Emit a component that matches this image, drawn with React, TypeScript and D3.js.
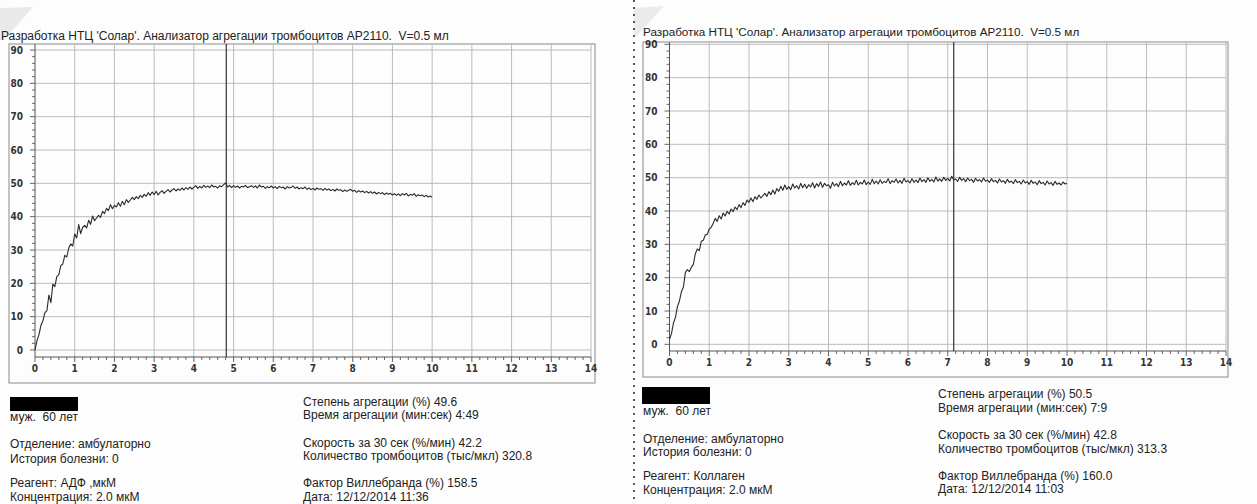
import React from "react";
import * as d3 from "d3";

// one reading every 3 s (0.05 min), 0 .. 10 min
const sampleStep = 0.05;

const adpCurve = [
  0, 2.8, 4.6, 7.4, 8.8, 11.2, 11.8, 16.5, 14.2, 19.8, 19.0, 22.1, 22.6, 25.3, 25.8, 28.4, 27.9, 30.6, 31.8, 31.2,
  34.8, 33.6, 37.6, 34.9, 36.8, 37.4, 36.6, 38.9, 37.7, 40.2, 38.8, 39.6, 40.4, 39.8, 41.6, 40.9, 42.5, 41.8, 43.6, 42.4,
  43.4, 42.9, 44.2, 43.1, 44.6, 43.6, 45.1, 44.3, 45.0, 45.8, 45.1, 46.0, 45.4, 46.4, 45.8, 46.7, 46.1, 47.2, 46.4, 47.4,
  46.6, 47.6, 46.5, 47.3, 47.8, 47.0, 47.6, 48.1, 47.4, 48.0, 48.4, 47.7, 48.3, 47.9, 48.6, 48.0, 48.7, 48.2, 48.9, 48.3,
  48.8, 49.3, 48.5, 49.1, 48.6, 49.4, 48.8, 49.2, 48.7, 49.5, 48.9, 49.1, 48.6, 49.3, 49.0, 49.6, 50.1, 48.9, 49.4, 48.7,
  49.3, 48.8, 49.2, 48.6, 49.1, 48.9, 49.4, 48.7, 49.0, 49.3, 48.8, 49.2, 48.6, 49.5, 48.9, 49.1, 48.5, 49.0, 48.7, 49.2,
  48.6, 49.0, 48.4, 49.1, 48.7, 48.9, 48.3, 49.0, 48.6, 48.8, 49.2, 48.5, 48.9, 48.3, 48.7, 48.4, 48.9, 48.2, 48.6, 48.1,
  48.5, 48.0, 48.6, 48.2, 48.4, 47.9, 48.5, 48.0, 48.3, 47.8, 48.2, 47.7, 48.3, 47.9, 48.1, 47.5, 48.0, 47.6, 47.9, 48.2,
  47.6, 47.9, 47.3, 47.8, 47.4, 47.7, 47.2, 47.6, 47.1, 47.5, 47.0, 47.4, 46.8, 47.3, 46.9, 47.2, 46.6, 47.1, 46.7, 47.0,
  46.5, 46.9, 46.4, 46.8, 46.3, 46.9, 46.5, 47.0, 46.2, 46.7, 46.4, 46.9, 46.1, 46.6, 46.3, 46.5, 46.0, 46.4, 45.9, 46.2,
  45.8,
];

const collagenCurve = [
  1.5, 3.2, 6.4, 8.1, 11.3, 13.0, 15.8, 17.2, 21.6, 22.4, 21.8, 23.1, 24.0, 27.2, 28.6, 28.1, 30.9, 31.2, 32.8, 33.0,
  34.6, 35.1, 36.3, 37.8, 36.9, 38.6, 37.6, 39.4, 38.5, 39.9, 39.1, 40.6, 39.8, 41.2, 40.4, 41.9, 41.0, 42.5, 41.7, 43.3,
  42.6, 43.9, 42.8, 44.3, 43.5, 44.8, 43.9, 44.6, 45.3, 44.4, 45.8, 44.9, 46.3, 45.1, 46.7, 45.9, 47.4, 46.2, 47.8, 46.5,
  47.3, 46.4, 48.1, 46.9, 47.6, 46.6, 48.3, 47.0, 48.0, 46.8, 47.9, 47.2, 48.5, 46.9, 48.2, 47.4, 48.7, 47.1, 48.3, 47.6,
  47.9, 46.8, 48.6, 47.5, 48.2, 47.3, 48.9, 47.6, 48.4, 47.8, 49.1, 47.7, 48.5, 47.9, 49.2, 47.8, 48.6, 48.1, 49.3, 47.9,
  48.7, 48.0, 49.5, 48.2, 49.0, 48.1, 49.4, 48.3, 48.9, 48.5, 49.7, 48.2, 49.1, 48.6, 49.6, 48.4, 49.2, 48.3, 49.8, 48.7,
  49.1, 48.4, 49.7, 48.6, 49.3, 48.5, 49.9, 48.8, 49.4, 48.6, 50.0, 48.9, 49.5, 48.7, 50.2, 49.0, 49.6, 48.9, 50.1, 49.2,
  49.8, 49.0, 50.4, 49.3, 49.6, 48.9, 50.1, 49.2, 49.7, 48.8, 49.9, 49.1, 49.5, 48.6, 49.8, 49.0, 49.4, 48.7, 49.9, 48.9,
  49.3, 48.6, 49.7, 48.8, 49.2, 48.4, 49.6, 48.7, 49.1, 48.3, 49.5, 48.6, 49.0, 48.2, 49.4, 48.5, 48.9, 48.1, 49.3, 48.4,
  48.8, 48.0, 49.2, 48.3, 48.7, 47.9, 49.1, 48.2, 48.6, 47.8, 49.0, 48.1, 48.5, 47.7, 48.9, 48.0, 48.4, 47.8, 48.7, 48.1,
  48.3,
];

// aggregation time markers, minutes (4:49 and 7:09)
const adpMarker = 4 + 49 / 60;
const collagenMarker = 7 + 9 / 60;

const xTickValues = d3.range(0, 15);
const yTickValues = [0, 10, 20, 30, 40, 50, 60, 70, 80, 90];

const title = "Разработка НТЦ 'Солар'. Анализатор агрегации тромбоцитов AP2110.  V=0.5 мл";

const adpPatient = ["муж.  60 лет", "Отделение: амбулаторно", "История болезни: 0", "Реагент: АДФ ,мкМ", "Концентрация: 2.0 мкМ"];
const adpResults = [
  "Степень агрегации (%) 49.6",
  "Время агрегации (мин:сек) 4:49",
  "Скорость за 30 сек (%/мин) 42.2",
  "Количество тромбоцитов (тыс/мкл) 320.8",
  "Фактор Виллебранда (%) 158.5",
  "Дата: 12/12/2014 11:36",
];
const collagenPatient = ["муж.  60 лет", "Отделение: амбулаторно", "История болезни: 0", "Реагент: Коллаген", "Концентрация: 2.0 мкМ"];
const collagenResults = [
  "Степень агрегации (%) 50.5",
  "Время агрегации (мин:сек) 7:9",
  "Скорость за 30 сек (%/мин) 42.8",
  "Количество тромбоцитов (тыс/мкл) 313.3",
  "Фактор Виллебранда (%) 160.0",
  "Дата: 12/12/2014 11:03",
];

const textFont = "'Liberation Sans', Arial, sans-serif";
const tickFont = "'Liberation Sans Narrow', 'DejaVu Sans Condensed', sans-serif";

function Panel(props: any) {
  const { frame, xRange, yRange, yDomain, values, marker, titleX, titleY, titleSize, patient, results, leftX, leftY, rightX, rightY, blackBox } = props;

  const x = d3.scaleLinear().domain([0, 14]).range(xRange);
  const y = d3.scaleLinear().domain(yDomain).range(yRange);
  const line = d3
    .line<number>()
    .x((_, i) => x(i * sampleStep))
    .y((d) => y(d));

  const top = frame.y;
  const axisY = yRange[0];
  const axisX = xRange[0];
  const minorX = x.ticks(70);
  const minorY = y.ticks(45).filter((v) => v >= 0 && v <= 90);

  return (
    <g>
      <text x={titleX} y={titleY} fontFamily={textFont} fontSize={titleSize} fill="#222" style={{ whiteSpace: "pre" }}>
        {title}
      </text>
      <rect x={frame.x} y={frame.y} width={frame.w} height={frame.h} fill="none" stroke="#8a8a8a" strokeWidth={1} />

      {/* grid */}
      {xTickValues.slice(1).map((t) => (
        <line key={"gx" + t} x1={x(t)} x2={x(t)} y1={top} y2={axisY} stroke="#b4b4b4" strokeWidth={0.9} />
      ))}
      {yTickValues.map((v) => (
        <line key={"gy" + v} x1={axisX} x2={x(14)} y1={y(v)} y2={y(v)} stroke="#b4b4b4" strokeWidth={0.9} />
      ))}

      {/* axes */}
      <line x1={axisX} x2={axisX} y1={top} y2={axisY} stroke="#555" strokeWidth={1} />
      <line x1={axisX} x2={x(14)} y1={axisY} y2={axisY} stroke="#555" strokeWidth={1} />

      {minorX.map((t) => (
        <line key={"mx" + t} x1={x(t)} x2={x(t)} y1={axisY} y2={axisY + (Math.abs(t - Math.round(t)) < 1e-6 ? 5 : 3)} stroke="#555" strokeWidth={0.9} />
      ))}
      {minorY.map((v) => (
        <line key={"my" + v} x1={axisX - (v % 10 === 0 ? 5 : 3)} x2={axisX} y1={y(v)} y2={y(v)} stroke="#555" strokeWidth={0.9} />
      ))}
      {xTickValues.map((t) => (
        <text key={"lx" + t} x={x(t)} y={axisY + 15} textAnchor="middle" fontFamily={tickFont} fontWeight="bold" fontSize={10} fill="#333">
          {t}
        </text>
      ))}
      {yTickValues.map((v) => (
        <text key={"ly" + v} x={axisX - 12} y={y(v) + 3.5} textAnchor="end" fontFamily={tickFont} fontWeight="bold" fontSize={10} fill="#333">
          {v}
        </text>
      ))}

      {/* curve and aggregation time */}
      <path d={line(values) || ""} fill="none" stroke="#2a2a2a" strokeWidth={1.1} strokeLinejoin="round" />
      <line x1={x(marker)} x2={x(marker)} y1={top} y2={axisY} stroke="#333" strokeWidth={1.2} />

      {/* report text */}
      <rect x={blackBox.x} y={blackBox.y} width={blackBox.w} height={blackBox.h} fill="#000" />
      {patient.map((s: string, i: number) => (
        <text key={"p" + i} x={leftX} y={leftY[i]} fontFamily={textFont} fontSize={12} fill="#222" style={{ whiteSpace: "pre" }}>
          {s}
        </text>
      ))}
      {results.map((s: string, i: number) => (
        <text key={"r" + i} x={rightX} y={rightY[i]} fontFamily={textFont} fontSize={12} fill="#222">
          {s}
        </text>
      ))}
    </g>
  );
}

export default function App() {
  return (
    <svg width={1257} height={504} style={{ position: "absolute", left: 0, top: 0, background: "#fff" }}>
      <rect width={1257} height={504} fill="#fdfdfd" />
      <polygon points="0,8 33,7 4,40 0,40" fill="#e9e9e9" />
      <polygon points="634,8 664,6 637,36 634,36" fill="#ebebeb" />
      <line x1={634} x2={634} y1={0} y2={504} stroke="#555" strokeWidth={2} strokeDasharray="2 5" />

      <Panel
        frame={{ x: 9, y: 44, w: 586, h: 339 }}
        xRange={[35, 591]}
        yRange={[357, 44]}
        yDomain={[-2.1, 91.8]}
        values={adpCurve}
        marker={adpMarker}
        titleX={1}
        titleY={40}
        titleSize={12}
        patient={adpPatient}
        results={adpResults}
        leftX={10}
        leftY={[421, 448, 463, 487, 501]}
        rightX={303}
        rightY={[406, 419, 447, 460, 487, 501]}
        blackBox={{ x: 10, y: 397, w: 68, h: 14 }}
      />
      <Panel
        frame={{ x: 643, y: 42, w: 585, h: 335 }}
        xRange={[669.5, 1226]}
        yRange={[351, 42]}
        yDomain={[-2, 90.7]}
        values={collagenCurve}
        marker={collagenMarker}
        titleX={643}
        titleY={36}
        titleSize={11.7}
        patient={collagenPatient}
        results={collagenResults}
        leftX={643}
        leftY={[415, 443, 456, 480, 494]}
        rightX={938}
        rightY={[398, 412, 439, 453, 480, 493]}
        blackBox={{ x: 642, y: 387, w: 68, h: 17 }}
      />
    </svg>
  );
}
